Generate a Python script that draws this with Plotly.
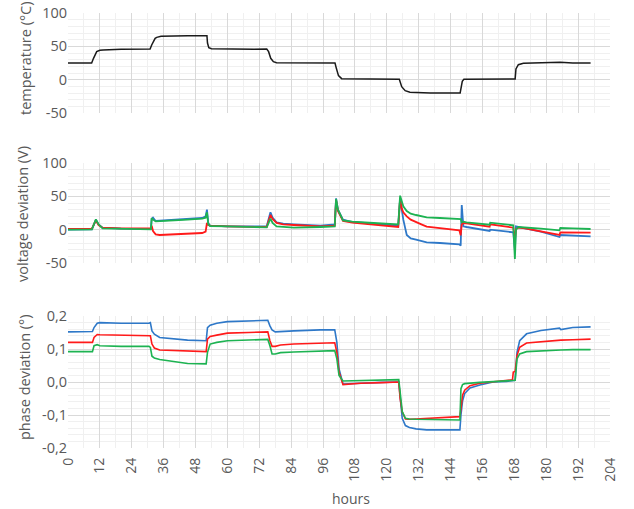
import plotly.graph_objects as go

# ---------------- data ----------------
temp_hours = [0, 8.9, 9.6, 10.3, 10.8, 12, 13.2, 20, 30.9, 31.5, 32.2, 32.8, 33.4, 35, 45, 52.3, 52.5, 53, 54, 60,
              70, 74.8, 75.5, 76.3, 77.3, 78.5, 85, 95, 100.5, 101, 101.8, 103, 110, 124.7, 125.6, 126.9, 128.7, 136.3,
              147.6, 147.9, 148.4, 149, 155, 168.3, 168.6, 169.5, 171.4, 178, 185.2, 190, 196.7]
temp_values = [25, 25, 32, 38, 42, 44, 44.5, 45.5, 46, 52, 59, 62, 63.5, 65, 66, 66, 55, 48, 46.5, 46,
               45.5, 46, 42, 32, 27, 25.5, 25.5, 25, 25, 17, 6, 1.5, 1, 0.5, -10.5, -16.5, -19, -20,
               -20, -10, -2.5, 0.5, 1, 1, 16, 22.5, 24.5, 25, 26, 25, 25]

volt_hours = [0, 9, 10.5, 11.5, 13, 20, 31.2, 31.5, 32, 33, 34.5, 40, 45, 50.5, 51.8, 52.3, 52.8, 53.5, 60, 70,
              74.8, 76.2, 77, 78.5, 81, 85, 95, 100.4, 100.9, 101.6, 103.5, 107, 115, 124.3, 125, 125.6, 126.2,
              127.5, 129, 131, 133, 135, 140, 147.3, 147.8, 148.2, 148.8, 150, 158.7, 158.9, 167.6, 168.2, 168.6,
              169.5, 172, 178, 185, 185.3, 190, 196.7]
volt_blue = [0, 0.5, 15, 8, 3, 1.5, 1, 16, 18, 13, 13.5, 14.5, 16, 17.5, 20, 30, 10, 6, 5, 5,
             5, 26, 18, 11, 9, 8, 6, 8, 47, 30, 15, 11.5, 9, 6, 47, 30, 15,
             -8, -13, -15, -16.5, -19, -20, -22, -24, 37, 5, 4, -2, 0, -4, -31, 5,
             4, 2, -3, -11, -8, -9, -10]
volt_red = [1, 1.5, 14, 7, 3, 2, 2, 6, -2, -7, -8, -7, -6, -5, -3, 10, 7, 6, 5, 4.5,
            4, 22, 16, 10, 8, 7, 5, 6, 44, 28, 13, 10.5, 8, 4, 46, 32, 26,
            20, 15, 11, 8, 4.5, 2, -1, -8.5, 8, 10, 9.5, 4.5, 8, 3, -16, 1,
            3, 2, -3, -8, -4, -4, -4.5]
volt_green = [0, 0.5, 15.5, 8, 2, 1, 0.5, 17.5, 15, 12.5, 13, 14, 15, 16.5, 18, 26, 8, 5.5, 5, 4,
              3.5, 16.5, 10, 5, 4, 3, 4, 5, 46, 30, 14, 12, 10, 8, 51, 42, 35,
              28, 24, 22, 20, 18.5, 17.5, 17, 16, 11, 12, 11, 7.5, 10.5, 6.5, -44, 0,
              4, 3.5, 1.5, -1, 2.5, 2, 1]

phase_hours = [0, 9.2, 9.8, 11, 12, 20, 30.5, 31, 31.6, 32.5, 34.5, 40, 45, 52, 52.5, 53.5, 56, 60, 68, 75.2,
               76, 76.8, 78, 80, 85, 95, 100.4, 101.2, 102, 103.5, 110, 118, 124.5, 125, 125.8, 127, 128.5, 131,
               135, 140, 147.5, 147.9, 148.5, 149.3, 151.3, 155, 160, 165, 167.3, 167.6, 168.3, 169, 170, 172.6,
               178, 185, 185.5, 190, 196.7]
phase_blue = [0.152, 0.153, 0.165, 0.178, 0.18, 0.178, 0.178, 0.18, 0.155, 0.145,
              0.135, 0.13, 0.127, 0.125, 0.165, 0.172, 0.178, 0.183, 0.184, 0.187,
              0.17, 0.158, 0.152, 0.153, 0.155, 0.158, 0.158, 0.12, 0.04, -0.006,
              -0.003, -0.001, 0.0, -0.04, -0.11, -0.132, -0.138, -0.142, -0.145, -0.145,
              -0.145, -0.1, -0.058, -0.035, -0.018, -0.009, 0.0, 0.002, 0.003, 0.004,
              0.005, 0.09, 0.125, 0.146, 0.156, 0.163, 0.159, 0.165, 0.167]
phase_red = [0.12, 0.12, 0.135, 0.144, 0.143, 0.142, 0.142, 0.14, 0.115, 0.103,
             0.097, 0.095, 0.093, 0.092, 0.13, 0.138, 0.142, 0.148, 0.15, 0.152,
             0.125, 0.108, 0.108, 0.112, 0.115, 0.119, 0.119, 0.09, 0.03, -0.008,
             -0.004, -0.002, 0.0, -0.05, -0.09, -0.112, -0.113, -0.112, -0.11, -0.108,
             -0.105, -0.08, -0.04, -0.025, -0.011, -0.004, 0.0, 0.004, 0.007, 0.03,
             0.032, 0.08, 0.105, 0.118, 0.122, 0.127, 0.127, 0.128, 0.13]
phase_green = [0.092, 0.092, 0.11, 0.113, 0.11, 0.108, 0.108, 0.105, 0.078, 0.073,
               0.068, 0.062, 0.056, 0.055, 0.09, 0.115, 0.12, 0.125, 0.127, 0.129,
               0.11, 0.085, 0.085, 0.089, 0.091, 0.095, 0.095, 0.07, 0.02, 0.003,
               0.004, 0.005, 0.007, -0.03, -0.09, -0.11, -0.112, -0.113, -0.114, -0.115,
               -0.115, -0.02, -0.008, -0.005, -0.003, -0.001, 0.001, 0.004, 0.005, 0.005,
               0.005, 0.07, 0.085, 0.092, 0.095, 0.097, 0.097, 0.098, 0.098]

x_ticks = list(range(0, 205, 12))
temp_ticks = [-50, 0, 50, 100]
temp_ticktext = ["-50", "0", "50", "100"]
volt_ticks = [-50, 0, 50, 100]
volt_ticktext = ["-50", "0", "50", "100"]
phase_ticks = [-0.2, -0.1, 0.0, 0.1, 0.2]
phase_ticktext = ["-0,2", "-0,1", "0,0", "0,1", "0,2"]

# ---------------- styling ----------------
BLUE = "#2E78C8"
RED = "#FF1A1A"
GREEN = "#1DB352"
TXT = "#595959"
MAJ = "#D9D9D9"
MIN = "#F0F0F0"
FONT = "Open Sans"

fig = go.Figure()

fig.add_trace(go.Scatter(x=temp_hours, y=temp_values, xaxis="x2", yaxis="y2", mode="lines",
                         line=dict(color="#1a1a1a", width=1.5), showlegend=False))
for vals, col in ((volt_blue, BLUE), (volt_red, RED), (volt_green, GREEN)):
    fig.add_trace(go.Scatter(x=volt_hours, y=vals, xaxis="x3", yaxis="y3", mode="lines",
                             line=dict(color=col, width=1.8), showlegend=False))
for vals, col in ((phase_blue, BLUE), (phase_red, RED), (phase_green, GREEN)):
    fig.add_trace(go.Scatter(x=phase_hours, y=vals, xaxis="x4", yaxis="y4", mode="lines",
                             line=dict(color=col, width=1.6), showlegend=False))

H = 435.0
def dom(top_px, bot_px):
    return [(448 - bot_px) / H, (448 - top_px) / H]

xcommon = dict(range=[0, 204], tickmode="array", tickvals=x_ticks, showgrid=True, gridcolor=MAJ,
               gridwidth=1, zeroline=False, showline=False, ticks="", automargin=False,
               minor=dict(dtick=6, tick0=0, showgrid=True, gridcolor=MIN, gridwidth=1))
ycommon = dict(showgrid=True, gridcolor=MAJ, gridwidth=1, zeroline=False, showline=False, ticks="",
               automargin=False, tickfont=dict(family=FONT, size=14.5, color=TXT))

fig.update_layout(
    template="none",
    width=634, height=509, autosize=False,
    margin=dict(l=68, r=24, t=13, b=61, pad=0),
    paper_bgcolor="white", plot_bgcolor="rgba(0,0,0,0)",
    font=dict(family=FONT, color=TXT),
    # background axis: major vertical gridlines through the whole stack
    xaxis=dict(range=[0, 204], tickmode="array", tickvals=x_ticks, showgrid=True, gridcolor=MAJ,
               zeroline=False, showticklabels=False, ticks="", anchor="y", domain=[0, 1],
               automargin=False),
    yaxis=dict(range=[0, 1], domain=[0, 1], showgrid=False, zeroline=False, showticklabels=False,
               anchor="x", automargin=False),
    xaxis2=dict(xcommon, anchor="y2", showticklabels=False, matches="x"),
    yaxis2=dict(ycommon, domain=dom(13, 113), range=[-50, 100], anchor="x2", tickmode="array",
                tickvals=temp_ticks, ticktext=temp_ticktext,
                minor=dict(dtick=10, tick0=0, showgrid=True, gridcolor=MIN)),
    xaxis3=dict(xcommon, anchor="y3", showticklabels=False, matches="x"),
    yaxis3=dict(ycommon, domain=dom(163, 263), range=[-50, 100], anchor="x3", tickmode="array",
                tickvals=volt_ticks, ticktext=volt_ticktext,
                minor=dict(dtick=10, tick0=0, showgrid=True, gridcolor=MIN)),
    xaxis4=dict(xcommon, anchor="y4", matches="x", tickangle=-90, ticklabelstandoff=6,
                tickfont=dict(family=FONT, size=14, color=TXT)),
    yaxis4=dict(ycommon, domain=dom(316, 448), range=[-0.2, 0.2], anchor="x4", tickmode="array",
                tickvals=phase_ticks, ticktext=phase_ticktext,
                minor=dict(dtick=0.02, tick0=0, showgrid=True, gridcolor=MIN)),
)

ann = dict(xref="paper", yref="paper", showarrow=False, textangle=-90, xanchor="center", yanchor="middle",
           font=dict(family=FONT, size=14.5, color=TXT))
fig.add_annotation(ann, text="temperature (°C)", x=(26 - 68) / 542, y=(448 - 58) / H)
fig.add_annotation(ann, text="voltage deviation (V)", x=(22 - 68) / 542, y=(448 - 214) / H)
fig.add_annotation(ann, text="phase deviation (°)", x=(24 - 68) / 542, y=(448 - 377) / H)
fig.add_annotation(xref="paper", yref="paper", showarrow=False, text="hours", x=(351 - 68) / 542,
                   y=(448 - 498) / H, xanchor="center", yanchor="middle",
                   font=dict(family=FONT, size=14, color=TXT))

fig.write_html("out.html", config={"displayModeBar": False},
               post_script="document.body.style.margin='0';document.body.style.overflow='hidden';")
